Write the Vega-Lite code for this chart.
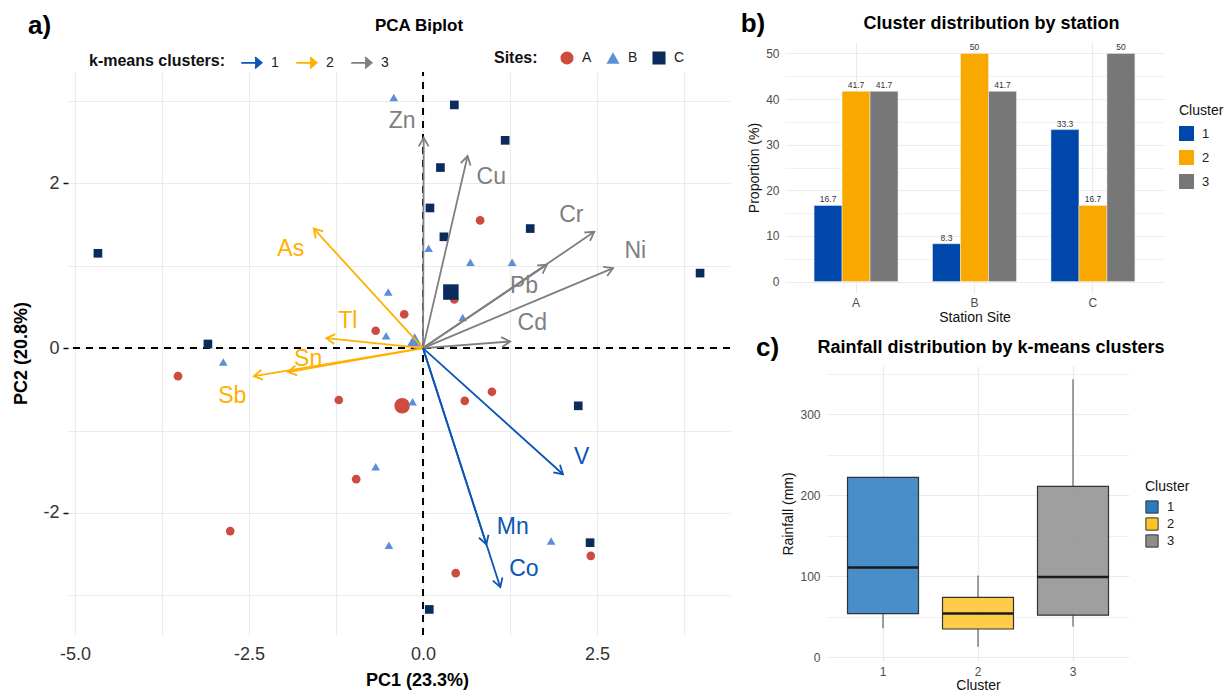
{
  "$schema": "https://vega.github.io/schema/vega-lite/v6.json",
  "background": "white",
  "padding": {"left": 12, "top": 11, "right": 4, "bottom": 0},
  "config": {
    "font": "Liberation Sans",
    "view": {"stroke": null},
    "axis": {"domain": false, "gridColor": "#EBEBEB", "labelColor": "#4D4D4D", "titleColor": "#111111", "titleFontWeight": "normal"},
    "legend": {"labelColor": "#222222", "titleColor": "#111111", "titleFontWeight": "normal"},
    "title": {"color": "#000000"}
  },
  "datasets": {
    "pts": [
      {"site": "A", "x": -3.52, "y": -0.34, "kind": "sample"},
      {"site": "A", "x": -2.77, "y": -2.22, "kind": "sample"},
      {"site": "A", "x": -1.21, "y": -0.63, "kind": "sample"},
      {"site": "A", "x": -0.96, "y": -1.59, "kind": "sample"},
      {"site": "A", "x": -0.68, "y": 0.21, "kind": "sample"},
      {"site": "A", "x": -0.27, "y": 0.41, "kind": "sample"},
      {"site": "A", "x": 0.82, "y": 1.55, "kind": "sample"},
      {"site": "A", "x": 0.45, "y": 0.59, "kind": "sample"},
      {"site": "A", "x": 0.60, "y": -0.64, "kind": "sample"},
      {"site": "A", "x": 0.99, "y": -0.53, "kind": "sample"},
      {"site": "A", "x": 0.47, "y": -2.73, "kind": "sample"},
      {"site": "A", "x": 2.41, "y": -2.52, "kind": "sample"},
      {"site": "A", "x": -0.30, "y": -0.70, "kind": "mean"},
      {"site": "B", "x": -2.87, "y": -0.17, "kind": "sample"},
      {"site": "B", "x": -0.42, "y": 3.04, "kind": "sample"},
      {"site": "B", "x": -0.50, "y": 0.68, "kind": "sample"},
      {"site": "B", "x": -0.53, "y": 0.15, "kind": "sample"},
      {"site": "B", "x": 0.08, "y": 1.21, "kind": "sample"},
      {"site": "B", "x": 0.68, "y": 1.04, "kind": "sample"},
      {"site": "B", "x": 1.28, "y": 1.04, "kind": "sample"},
      {"site": "B", "x": 0.57, "y": 0.37, "kind": "sample"},
      {"site": "B", "x": -0.15, "y": -0.65, "kind": "sample"},
      {"site": "B", "x": -0.68, "y": -1.44, "kind": "sample"},
      {"site": "B", "x": -0.49, "y": -2.39, "kind": "sample"},
      {"site": "B", "x": 1.84, "y": -2.34, "kind": "sample"},
      {"site": "B", "x": -0.12, "y": 0.10, "kind": "mean"},
      {"site": "C", "x": -4.67, "y": 1.15, "kind": "sample"},
      {"site": "C", "x": -3.09, "y": 0.05, "kind": "sample"},
      {"site": "C", "x": 0.45, "y": 2.95, "kind": "sample"},
      {"site": "C", "x": 1.18, "y": 2.52, "kind": "sample"},
      {"site": "C", "x": 0.25, "y": 2.19, "kind": "sample"},
      {"site": "C", "x": 0.10, "y": 1.70, "kind": "sample"},
      {"site": "C", "x": 0.30, "y": 1.35, "kind": "sample"},
      {"site": "C", "x": 1.54, "y": 1.45, "kind": "sample"},
      {"site": "C", "x": 3.98, "y": 0.91, "kind": "sample"},
      {"site": "C", "x": 2.23, "y": -0.70, "kind": "sample"},
      {"site": "C", "x": 2.40, "y": -2.36, "kind": "sample"},
      {"site": "C", "x": 0.09, "y": -3.17, "kind": "sample"},
      {"site": "C", "x": 0.40, "y": 0.68, "kind": "mean"}
    ],
    "vars": [
      {"var": "Zn", "cluster": "3", "x": 0.01, "y": 2.55, "lx": -0.30, "ly": 2.75},
      {"var": "Cu", "cluster": "3", "x": 0.64, "y": 2.33, "lx": 0.98, "ly": 2.07},
      {"var": "Cr", "cluster": "3", "x": 2.46, "y": 1.41, "lx": 2.13, "ly": 1.62},
      {"var": "Ni", "cluster": "3", "x": 2.73, "y": 0.97, "lx": 3.05, "ly": 1.18},
      {"var": "Pb", "cluster": "3", "x": 1.78, "y": 1.01, "lx": 1.45, "ly": 0.75},
      {"var": "Cd", "cluster": "3", "x": 1.25, "y": 0.08, "lx": 1.57, "ly": 0.30},
      {"var": "As", "cluster": "2", "x": -1.57, "y": 1.45, "lx": -1.90, "ly": 1.20},
      {"var": "Tl", "cluster": "2", "x": -1.39, "y": 0.12, "lx": -1.08, "ly": 0.33},
      {"var": "Sn", "cluster": "2", "x": -1.94, "y": -0.29, "lx": -1.65, "ly": -0.13},
      {"var": "Sb", "cluster": "2", "x": -2.43, "y": -0.34, "lx": -2.74, "ly": -0.58},
      {"var": "V", "cluster": "1", "x": 2.01, "y": -1.53, "lx": 2.28, "ly": -1.32},
      {"var": "Mn", "cluster": "1", "x": 0.91, "y": -2.38, "lx": 1.29, "ly": -2.17},
      {"var": "Co", "cluster": "1", "x": 1.11, "y": -2.90, "lx": 1.45, "ly": -2.68}
    ],
    "bars": [
      {"station": "A", "cluster": "1", "prop": 16.7},
      {"station": "A", "cluster": "2", "prop": 41.7},
      {"station": "A", "cluster": "3", "prop": 41.7},
      {"station": "B", "cluster": "1", "prop": 8.3},
      {"station": "B", "cluster": "2", "prop": 50},
      {"station": "B", "cluster": "3", "prop": 41.7},
      {"station": "C", "cluster": "1", "prop": 33.3},
      {"station": "C", "cluster": "2", "prop": 16.7},
      {"station": "C", "cluster": "3", "prop": 50}
    ],
    "rain": [
      {"cluster": "1", "lower": 36, "q1": 54, "median": 111, "q3": 222, "upper": 222},
      {"cluster": "2", "lower": 13, "q1": 35, "median": 54, "q3": 74, "upper": 101},
      {"cluster": "3", "lower": 38, "q1": 52, "median": 99, "q3": 211, "upper": 343}
    ]
  },
  "spacing": 9,
  "resolve": {"scale": {"color": "independent", "fill": "independent", "stroke": "independent", "shape": "independent", "size": "independent"}},
  "hconcat": [
    {
      "title": {"text": "a)", "anchor": "start", "fontSize": 26, "fontWeight": "bold", "offset": -22, "dx": 15},
      "vconcat": [
        {
          "width": 662,
          "height": 593,
          "title": {"text": "PCA Biplot", "fontSize": 17, "fontWeight": "bold", "anchor": "middle", "frame": "group", "dx": 20, "offset": 7},
          "layer": [
            {
              "data": {"values": [{}]},
              "mark": {"type": "rule", "color": "black", "strokeDash": [7, 6], "strokeWidth": 2},
              "encoding": {"y": {"datum": 0, "type": "quantitative"}}
            },
            {
              "data": {"values": [{}]},
              "mark": {"type": "rule", "color": "black", "strokeDash": [7, 6], "strokeWidth": 2},
              "encoding": {"x": {"datum": 0, "type": "quantitative"}, "y": {"datum": -3.48, "type": "quantitative"}, "y2": {"datum": 3.35}}
            },
            {
              "data": {"name": "pts"},
              "mark": {"type": "point", "filled": true, "opacity": 1, "strokeWidth": 0},
              "encoding": {
                "x": {
                  "field": "x", "type": "quantitative",
                  "scale": {"domain": [-5.1, 4.41], "nice": false, "zero": false},
                  "axis": {
                    "values": [-5, -3.75, -2.5, -1.25, 0, 1.25, 2.5, 3.75],
                    "grid": false, "zindex": 0,
                    "ticks": true, "tickColor": "#EBEBEB", "tickWidth": 1.2, "tickSize": -563,
                    "labelExpr": "abs(datum.value % 2.5) < 0.01 ? (datum.value < 0 ? '-' : '') + format(abs(datum.value), '.1f') : ''",
                    "labelFontSize": 18, "labelColor": "#333333", "labelPadding": 573, "labelFlush": false, "labelOverlap": false,
                    "title": "PC1 (23.3%)", "titleFontSize": 18, "titleFontWeight": "bold", "titleColor": "#000000", "titlePadding": 8, "titleX": 349
                  }
                },
                "y": {
                  "field": "y", "type": "quantitative",
                  "scale": {"domain": [-3.48, 3.713], "nice": false, "zero": false},
                  "axis": {
                    "values": [-3, -2, -1, 0, 1, 2, 3],
                    "grid": true, "gridColor": "#EBEBEB", "gridWidth": 1.2,
                    "ticks": true, "tickColor": "#111111", "tickWidth": 1.5, "tickSize": 5,
                    "tickOpacity": {"condition": {"test": "datum.value % 2 == 0", "value": 1}, "value": 0},
                    "labelExpr": "datum.value % 2 == 0 ? (datum.value < 0 ? '-' : '') + abs(datum.value) : ''",
                    "labelFontSize": 18, "labelColor": "#333333", "labelPadding": 4,
                    "title": "PC2 (20.8%)", "titleFontSize": 18, "titleFontWeight": "bold", "titleColor": "#000000", "titlePadding": 12, "titleY": 311
                  }
                },
                "color": {
                  "field": "site", "type": "nominal",
                  "scale": {"domain": ["A", "B", "C"], "range": ["#CD4B3F", "#5B8FD6", "#0B2B5C"]},
                  "legend": {"orient": "none", "legendX": 426, "legendY": 9, "direction": "horizontal", "title": "Sites:", "titleOrient": "left", "titleFontSize": 16, "titleFontWeight": "bold", "titlePadding": 22, "symbolSize": 170, "symbolStrokeWidth": 0, "labelFontSize": 14, "labelOffset": 8, "columnPadding": 14}
                },
                "shape": {
                  "field": "site", "type": "nominal",
                  "scale": {"domain": ["A", "B", "C"], "range": ["circle", "triangle-up", "square"]},
                  "legend": {"orient": "none", "legendX": 426, "legendY": 9, "direction": "horizontal", "title": "Sites:", "titleOrient": "left", "titleFontSize": 16, "titleFontWeight": "bold", "titlePadding": 22, "symbolSize": 170, "symbolStrokeWidth": 0, "labelFontSize": 14, "labelOffset": 8, "columnPadding": 14}
                },
                "size": {
                  "field": "kind", "type": "nominal",
                  "scale": {"domain": ["sample", "mean"], "range": [75, 240]},
                  "legend": null
                }
              }
            },
            {
              "data": {"name": "vars"},
              "mark": {"type": "rule", "strokeWidth": 1.8},
              "encoding": {
                "x": {"field": "x", "type": "quantitative"},
                "y": {"field": "y", "type": "quantitative"},
                "x2": {"datum": 0},
                "y2": {"datum": 0},
                "stroke": {
                  "field": "cluster", "type": "nominal",
                  "scale": {"domain": ["1", "2", "3"], "range": ["#0A55B5", "#FFB000", "#7F7F7F"]},
                  "legend": {"orient": "none", "legendX": 21, "legendY": 9, "direction": "horizontal", "title": "k-means clusters:", "titleOrient": "left", "titleFontSize": 16, "titleFontWeight": "bold", "titlePadding": 14, "symbolType": "M-1,0L1,0M0.35,-0.55L1,0L0.35,0.55", "symbolSize": 420, "symbolStrokeWidth": 1.6, "symbolFillColor": "transparent", "labelFontSize": 14, "labelOffset": 8, "columnPadding": 14}
                }
              }
            },
            {
              "data": {"name": "vars"},
              "mark": {"type": "point", "shape": "M-0.5,0.85L0,0L0.5,0.85", "filled": false, "size": 400, "strokeWidth": 1.8, "opacity": 1, "angle": {"expr": "atan2(datum.x * 69.6, datum.y * 82.4) * 180 / PI"}},
              "encoding": {
                "x": {"field": "x", "type": "quantitative"},
                "y": {"field": "y", "type": "quantitative"},
                "stroke": {"field": "cluster", "type": "nominal", "legend": null}
              }
            },
            {
              "data": {"name": "vars"},
              "mark": {"type": "text", "fontSize": 23, "align": "center", "baseline": "middle"},
              "encoding": {
                "x": {"field": "lx", "type": "quantitative"},
                "y": {"field": "ly", "type": "quantitative"},
                "text": {"field": "var", "type": "nominal"},
                "fill": {
                  "field": "cluster", "type": "nominal",
                  "scale": {"domain": ["1", "2", "3"], "range": ["#0A55B5", "#FFB000", "#7F7F7F"]},
                  "legend": null
                }
              }
            }
          ]
        }
      ]
    },
    {
      "spacing": 11,
      "resolve": {"scale": {"color": "independent", "fill": "independent"}},
      "vconcat": [
        {
          "title": {"text": "b)", "anchor": "start", "fontSize": 26, "fontWeight": "bold", "offset": -22, "dx": -7},
          "vconcat": [
            {
              "width": 379,
              "height": 251,
              "title": {"text": "Cluster distribution by station", "fontSize": 18, "fontWeight": "bold", "anchor": "middle", "frame": "group", "dx": 17, "offset": 9},
              "data": {"name": "bars"},
              "encoding": {
                "x": {
                  "field": "station", "type": "nominal",
                  "scale": {"paddingInner": 0, "paddingOuter": 0.1},
                  "axis": {"labelAngle": 0, "labelFontSize": 12, "labelColor": "#4D4D4D", "labelPadding": 4, "ticks": false, "grid": true, "bandPosition": 0.5, "gridColor": "#EBEBEB", "gridWidth": 1.2, "title": "Station Site", "titleFontSize": 14, "titlePadding": 2}
                },
                "xOffset": {"field": "cluster", "type": "nominal", "scale": {"paddingInner": 0, "paddingOuter": 0.616}},
                "y": {
                  "field": "prop", "type": "quantitative",
                  "scale": {"domain": [-2.5, 52.5], "nice": false, "zero": false},
                  "axis": {
                    "values": [0, 5, 10, 15, 20, 25, 30, 35, 40, 45, 50],
                    "labelExpr": "datum.value % 10 == 0 ? datum.label : ''",
                    "ticks": false, "labelFontSize": 12, "labelPadding": 6,
                    "gridWidth": {"condition": {"test": "datum.value % 10 == 0", "value": 1.2}, "value": 0.7},
                    "title": "Proportion (%)", "titleFontSize": 14, "titlePadding": 4
                  }
                }
              },
              "layer": [
                {
                  "mark": {"type": "bar", "stroke": "#F0F0F0", "strokeWidth": 0.5},
                  "encoding": {
                    "y2": {"datum": 0},
                    "color": {
                      "field": "cluster", "type": "nominal",
                      "scale": {"domain": ["1", "2", "3"], "range": ["#0047AB", "#F9A800", "#777777"]},
                      "legend": {"orient": "none", "legendX": 394, "legendY": 62, "title": "Cluster", "titleFontSize": 14, "titlePadding": 8, "symbolType": "square", "symbolSize": 225, "symbolStrokeWidth": 0, "labelFontSize": 13, "labelOffset": 8, "rowPadding": 9}
                    }
                  }
                },
                {
                  "mark": {"type": "text", "baseline": "bottom", "dy": -1, "fontSize": 8.5, "color": "#333333"},
                  "encoding": {"text": {"field": "prop", "type": "nominal"}}
                }
              ]
            }
          ]
        },
        {
          "title": {"text": "c)", "anchor": "start", "fontSize": 26, "fontWeight": "bold", "offset": -22, "dx": -26},
          "vconcat": [
            {
              "width": 344,
              "height": 295,
              "title": {"text": "Rainfall distribution by k-means clusters", "fontSize": 18, "fontWeight": "bold", "anchor": "middle", "frame": "group", "dx": 34, "offset": 9},
              "data": {"name": "rain"},
              "encoding": {
                "x": {
                  "field": "cluster", "type": "nominal",
                  "scale": {"paddingInner": 0, "paddingOuter": 0.3105, "align": 0.856},
                  "axis": {"labelAngle": 0, "labelFontSize": 12, "labelColor": "#4D4D4D", "labelPadding": 5, "ticks": false, "grid": true, "bandPosition": 0.5, "gridColor": "#EBEBEB", "gridWidth": 1.2, "title": "Cluster", "titleFontSize": 14, "titlePadding": 1, "titleX": 193}
                }
              },
              "layer": [
                {
                  "mark": {"type": "rule", "color": "#555555", "strokeWidth": 1.1},
                  "encoding": {
                    "y": {
                      "field": "lower", "type": "quantitative",
                      "scale": {"domain": [-4.5, 359.5], "nice": false, "zero": false},
                      "axis": {
                        "values": [0, 50, 100, 150, 200, 250, 300, 350],
                        "labelExpr": "datum.value % 100 == 0 ? datum.label : ''",
                        "grid": false, "zindex": 0, "offset": -41,
                        "ticks": true, "tickColor": "#EBEBEB", "tickSize": -303,
                        "tickWidth": {"condition": {"test": "datum.value % 100 == 0", "value": 1.2}, "value": 0.7},
                        "labelFontSize": 12, "labelPadding": 309,
                        "title": "Rainfall (mm)", "titleFontSize": 14, "titlePadding": 4
                      }
                    },
                    "y2": {"field": "q1"}
                  }
                },
                {
                  "mark": {"type": "rule", "color": "#555555", "strokeWidth": 1.1},
                  "encoding": {
                    "y": {"field": "q3", "type": "quantitative"},
                    "y2": {"field": "upper"}
                  }
                },
                {
                  "mark": {"type": "bar", "size": 71, "stroke": "#333333", "strokeWidth": 1.2, "fillOpacity": 0.85},
                  "encoding": {
                    "y": {"field": "q1", "type": "quantitative"},
                    "y2": {"field": "q3"},
                    "fill": {
                      "field": "cluster", "type": "nominal",
                      "scale": {"domain": ["1", "2", "3"], "range": ["#2A7ABF", "#FFC32A", "#8E8E8E"]},
                      "legend": {"orient": "none", "legendX": 360, "legendY": 114, "title": "Cluster", "titleFontSize": 14, "titlePadding": 6, "symbolType": "square", "symbolSize": 150, "symbolStrokeColor": "#333333", "symbolStrokeWidth": 1, "labelFontSize": 13, "labelOffset": 8, "rowPadding": -1}
                    }
                  }
                },
                {
                  "mark": {"type": "tick", "size": 71, "thickness": 2.5, "color": "#1A1A1A", "opacity": 1},
                  "encoding": {"y": {"field": "median", "type": "quantitative"}}
                }
              ]
            }
          ]
        }
      ]
    }
  ]
}
